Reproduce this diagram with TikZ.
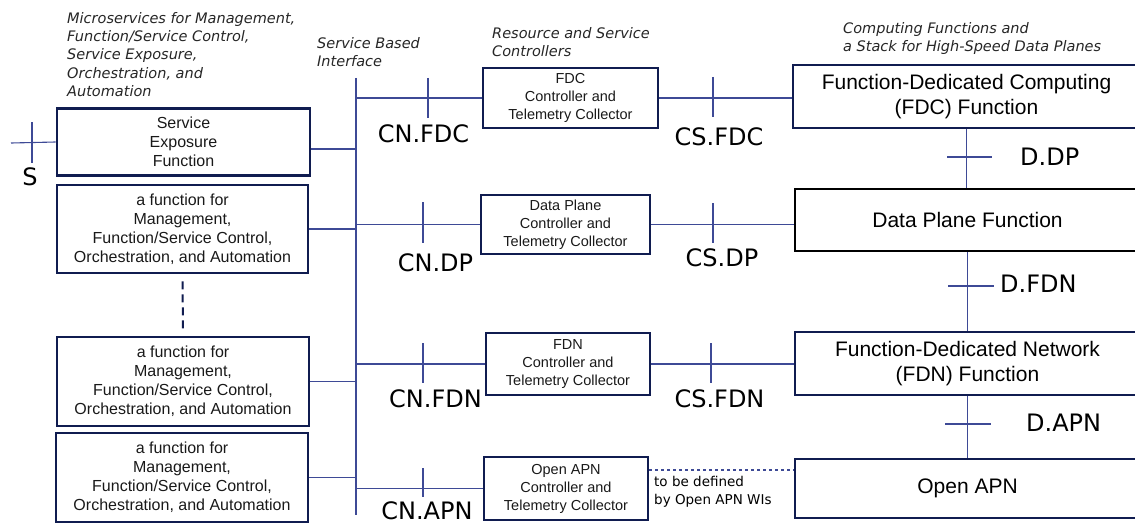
\documentclass[tikz,border=0pt]{standalone}
\usepackage{fontspec}
\setmainfont{Liberation Sans}
\newfontfamily\lblfont{DejaVu Sans}
\definecolor{navy}{RGB}{16,28,80}
\definecolor{wire}{RGB}{62,74,150}
\begin{document}
\begin{tikzpicture}[x=1pt,y=-1pt,
	fbox/.style={draw=navy,line width=2.6pt,align=center,inner sep=0pt,text=black!90,font=\fontsize{16}{19}\selectfont},
	cbox/.style={draw=navy,line width=2.4pt,align=center,inner sep=0pt,text=black!90,font=\fontsize{14.5}{18}\selectfont},
	rbox/.style={draw=navy,line width=2.6pt,align=center,inner sep=0pt,text=black,font=\fontsize{21}{25}\selectfont},
	link/.style={draw=wire,line width=1.1pt},
	lbl/.style={inner sep=0pt,text=black,font=\lblfont\fontsize{24}{24}\selectfont},
	hd/.style={anchor=north west,align=left,inner sep=0pt,text=black!85,font=\lblfont\itshape\fontsize{14.5}{18.3}\selectfont}]
	\useasboundingbox (0,0) rectangle (1135,527);
	\clip (0,0) rectangle (1135,527);

	\node[hd] (hdms) at (67,12) {Microservices for Management,\\Function/Service Control,\\Service Exposure,\\Orchestration, and\\Automation};
	\node[hd] (hdsbi) at (317,37) {Service Based\\Interface};
	\node[hd] (hdctl) at (492,27) {Resource and Service\\Controllers};
	\node[hd] (hdcf) at (843,22) {Computing Functions and\\a Stack for High-Speed Data Planes};

	\node[fbox,minimum width=253pt,minimum height=67pt] (sef) at (183.5,142) {Service\\Exposure\\Function};
	\node[fbox,minimum width=251pt,minimum height=88pt] (mf1) at (182.5,229) {a function for\\Management,\\Function/Service Control,\\Orchestration, and Automation};
	\node[fbox,minimum width=252pt,minimum height=89pt] (mf2) at (183,381.5) {a function for\\Management,\\Function/Service Control,\\Orchestration, and Automation};
	\node[fbox,minimum width=252pt,minimum height=89pt] (mf3) at (182,477.5) {a function for\\Management,\\Function/Service Control,\\Orchestration, and Automation};

	\node[cbox,minimum width=175pt,minimum height=60pt] (cfdc) at (570.5,98) {FDC\\Controller and\\Telemetry Collector};
	\node[cbox,minimum width=169pt,minimum height=59pt] (cdp) at (565.5,224.5) {Data Plane\\Controller and\\Telemetry Collector};
	\node[cbox,minimum width=164pt,minimum height=62pt] (cfdn) at (568,364) {FDN\\Controller and\\Telemetry Collector};
	\node[cbox,minimum width=164pt,minimum height=63pt] (capn) at (566,488.5) {Open APN\\Controller and\\Telemetry Collector};

	\node[rbox,minimum width=347pt,minimum height=63pt] (ffdc) at (966.5,96.5) {Function-Dedicated Computing\\(FDC) Function};
	\node[rbox,draw=black,minimum width=345pt,minimum height=62pt] (fdp) at (967.5,220) {Data Plane Function};
	\node[rbox,minimum width=345pt,minimum height=63pt] (ffdn) at (967.5,363.5) {Function-Dedicated Network\\(FDN) Function};
	\node[rbox,minimum width=345pt,minimum height=59pt] (fapn) at (967.5,488.5) {Open APN};

	\coordinate (bt) at (356,78);
	\coordinate (bb) at (356,515);
	\coordinate (sfree) at (11,143);
	\draw[link] (bt) -- (bb);

	\draw[link] (sef.west) -- (sfree);
	\draw[link] (32,122) -- (32,163);
	\node[lbl] (s) at (30,176.5) {S};

	\draw[link] ([yshift=-7pt]sef.east) -- ([yshift=-7pt]sef.east -| bt);
	\draw[link] (mf1.east) -- (mf1.east -| bt);
	\draw[link] (mf2.east) -- (mf2.east -| bt);
	\draw[link] (mf3.east) -- (mf3.east -| bt);
	\draw[navy,line width=2pt,dash pattern=on 8pt off 5pt] ([yshift=-7pt]mf1.south) -- ([yshift=5pt]mf2.north);

	\draw[link] (cfdc.west -| bt) -- (cfdc.west);
	\draw[link] (cdp.west -| bt) -- (cdp.west);
	\draw[link] (cfdn.west -| bt) -- (cfdn.west);
	\draw[link] (capn.west -| bt) -- (capn.west);
	\draw[link] (428,78) -- (428,118);
	\draw[link] (423,202) -- (423,243);
	\draw[link] (423,343) -- (423,383);
	\draw[link] (423,468) -- (423,497);
	\node[lbl] (cnfdc) at (423.5,133.5) {CN.FDC};
	\node[lbl] (cndp) at (435.5,262.5) {CN.DP};
	\node[lbl] (cnfdn) at (435.5,399) {CN.FDN};
	\node[lbl] (cnapn) at (427,511) {CN.APN};

	\draw[link] (cfdc.east) -- (cfdc.east -| ffdc.west);
	\draw[link] (cdp.east) -- (cdp.east -| fdp.west);
	\draw[link] (cfdn.east) -- (cfdn.east -| ffdn.west);
	\draw[link,dashed] ([yshift=18.5pt]capn.east) -- ([yshift=18.5pt]capn.east -| fapn.west);
	\draw[link] (713,77) -- (713,117);
	\draw[link] (713,203) -- (713,243);
	\draw[link] (711,343) -- (711,383);
	\node[lbl] (csfdc) at (719,136.5) {CS.FDC};
	\node[lbl] (csdp) at (722,257.5) {CS.DP};
	\node[lbl] (csfdn) at (719.5,398.5) {CS.FDN};
	\node[anchor=north west,align=left,inner sep=0pt,font=\lblfont\fontsize{13.5}{18}\selectfont] (tbd) at (654,476) {to be defined\\by Open APN WIs};

	\draw[link] (ffdc.south) -- (ffdc.south |- fdp.north);
	\draw[link] (fdp.south) -- (fdp.south |- ffdn.north);
	\draw[link] (ffdn.south) -- (ffdn.south |- fapn.north);
	\draw[link] (947,157) -- (992,157);
	\draw[link] (948,286) -- (994,286);
	\draw[link] (945,424) -- (991,424);
	\node[lbl,anchor=west] (ddp) at (1020,157) {D.DP};
	\node[lbl,anchor=west] (dfdn) at (1000,284) {D.FDN};
	\node[lbl,anchor=west] (dapn) at (1026,423) {D.APN};
\end{tikzpicture}
\end{document}
